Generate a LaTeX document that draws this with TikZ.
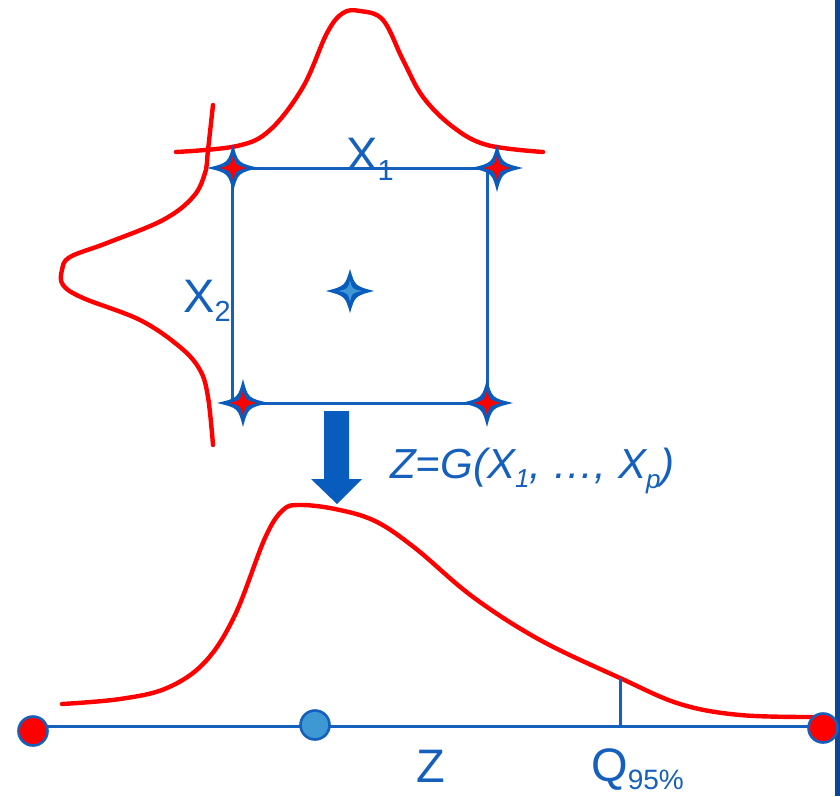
\documentclass[tikz,border=0pt]{standalone}
\usepackage{fontspec}
\setmainfont{Liberation Sans}
\definecolor{lineblue}{RGB}{21,96,189}
\definecolor{arrowblue}{RGB}{8,92,190}
\definecolor{lightblue}{RGB}{61,152,211}
\definecolor{borderblue}{RGB}{12,70,155}
\tikzset{
  blueline/.style={draw=lineblue, line width=3pt},
  redcurve/.style={draw=red, line width=4.4pt, line join=round, line cap=round},
  dotmark/.style={circle, draw=lineblue, line width=2.6pt, minimum size=29pt, inner sep=0pt},
  lbl/.style={text=lineblue, inner sep=0pt, anchor=base west},
  starmark/.pic={
    \fill[arrowblue] (26,0) .. controls (5,5) .. (0,24) .. controls (-5,5) .. (-26,0)
      .. controls (-5,-5) .. (0,-24) .. controls (5,-5) .. cycle;
    \fill[red] (14,0) .. controls (2.5,2.5) .. (0,13) .. controls (-2.5,2.5) .. (-14,0)
      .. controls (-2.5,-2.5) .. (0,-13) .. controls (2.5,-2.5) .. cycle;
  },
  starmarkc/.pic={
    \fill[arrowblue] (24,0) .. controls (5,5) .. (0,22) .. controls (-5,5) .. (-24,0)
      .. controls (-5,-5) .. (0,-22) .. controls (5,-5) .. cycle;
    \fill[lightblue] (12,0) .. controls (2,2) .. (0,11) .. controls (-2,2) .. (-12,0)
      .. controls (-2,-2) .. (0,-11) .. controls (2,-2) .. cycle;
  }
}
\begin{document}
\begin{tikzpicture}[x=1pt,y=-1pt]
\useasboundingbox (0,0) rectangle (840,796);
\fill[white] (0,0) rectangle (840,796);

% right border
\fill[borderblue] (835,0) rectangle (840,796);

% density of X1 (top)
\draw[redcurve] plot[smooth, tension=0.6] coordinates {
  (176,152) (237,146) (270,130) (303,87) (327,33) (343,13) (360,11) (383,20)
  (403,60) (423,97) (453,127) (487,145) (543,152)};

% density of X2 (left)
\draw[redcurve] plot[smooth, tension=0.6] coordinates {
  (213,105) (208,150) (205,173) (193,197) (163,220) (107,243) (70,257)
  (62,270) (63,285) (83,298) (140,320) (180,347) (200,370) (208,397) (213,445)};

% square
\draw[blueline] (232,168) rectangle (487,403);

% stars
\pic at (233,168) {starmark};
\pic at (497,168) {starmark};
\pic at (243,403) {starmark};
\pic at (487,403) {starmark};
\pic at (350,291) {starmarkc};

% labels X1, X2
\node[lbl] (x1) at (346,170) {\fontsize{47}{47}\selectfont X\raisebox{-10pt}{\fontsize{29}{29}\selectfont 1}};
\node[lbl] (x2) at (183,312) {\fontsize{47}{47}\selectfont X\raisebox{-9pt}{\fontsize{29}{29}\selectfont 2}};

% block arrow
\fill[arrowblue] (324,411) -- (349,411) -- (349,479) -- (362,479) -- (337,504)
  -- (311,479) -- (324,479) -- cycle;

% formula
\node[lbl] (fz) at (390,478) {\fontsize{42}{42}\selectfont\itshape Z=G(X\raisebox{-9pt}{\fontsize{26}{26}\selectfont 1}, \ldots, X\raisebox{-10pt}{\fontsize{26}{26}\selectfont p})};

% density of Z
\draw[redcurve] plot[smooth, tension=0.6] coordinates {
  (62,704) (120,699) (167,688) (205,662) (235,615)
  (265,538) (283,510) (300,505) (335,509) (375,521) (415,548)
  (473,597) (540,640) (620,678) (680,704) (740,715) (813,717)};

% axis
\coordinate (axL) at (33,726);
\coordinate (axR) at (823,726);
\draw[blueline] (axL) -- (axR);

% quantile line
\coordinate (qtop) at (620,678);
\draw[blueline] (qtop) -- (qtop |- axR);

% dots on axis
\node[dotmark, fill=red] (d1) at (33,731) {};
\node[dotmark, fill=lightblue] (bdot) at (315,725) {};
\node[dotmark, fill=red] (d3) at (823,728) {};

% axis labels
\node[lbl] (zl) at (416,782) {\fontsize{47}{47}\selectfont Z};
\node[lbl] (ql) at (591,781) {\fontsize{47}{47}\selectfont Q\raisebox{-8pt}{\fontsize{28}{28}\selectfont 95\%}};
\end{tikzpicture}
\end{document}
